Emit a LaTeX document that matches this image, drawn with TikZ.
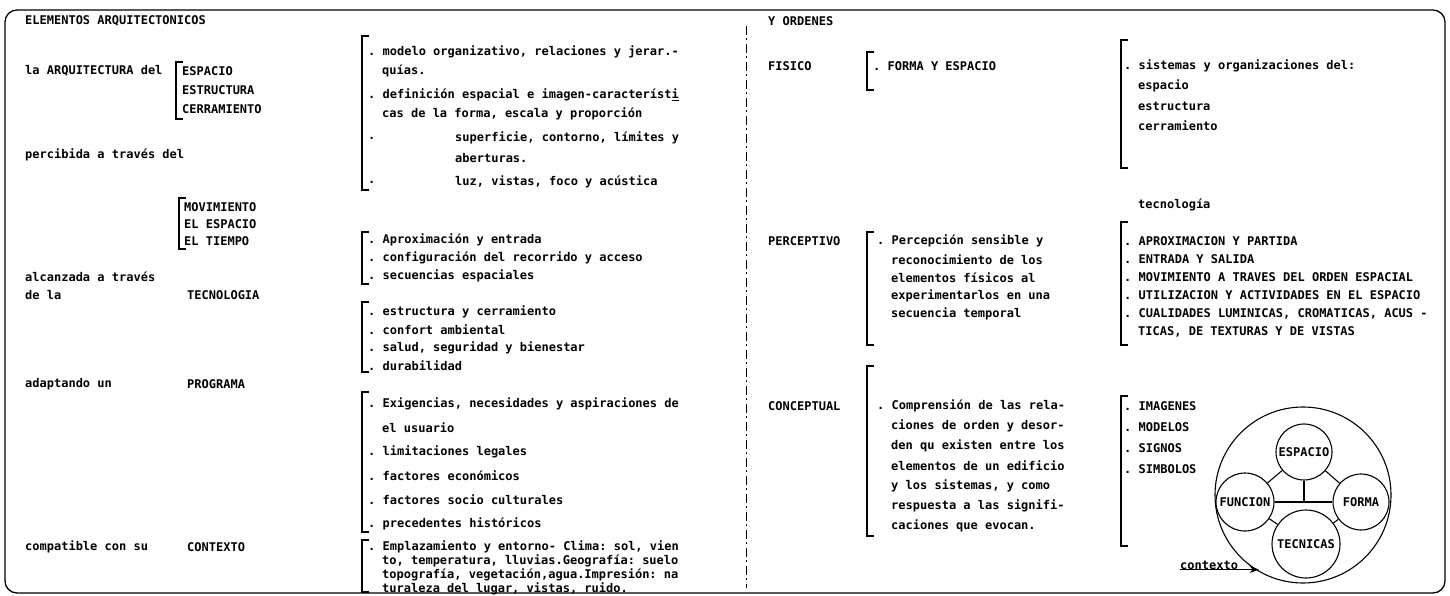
\documentclass[tikz,border=0pt]{standalone}
\usepackage{fontspec}
\setmainfont{DejaVu Sans Mono}
\usetikzlibrary{arrows.meta,positioning}
\newcommand{\brkt}[3]{\draw[brk] (#1+7,#2) -- (#1,#2) -- (#1,#3) -- (#1+7,#3);}

\begin{document}
\begin{tikzpicture}[x=1pt,y=-1pt,
  txt/.style={anchor=west,inner sep=0pt,font=\bfseries\fontsize{12}{14}\selectfont\frenchspacing},
  brk/.style={line width=1.5pt},
  frame/.style={line width=1.3pt,rounded corners=12pt},
  divl/.style={line width=0.9pt,dash pattern=on 9pt off 3pt on 2pt off 4pt},
  circ/.style={circle,draw,line width=1.1pt,inner sep=0pt,font=\bfseries\fontsize{12}{14}\selectfont},
  link/.style={line width=1.1pt},
  arr/.style={-{Stealth[length=9pt,width=7pt]},line width=1.2pt}]
  \useasboundingbox (0,0) rectangle (1450,596);
  \draw[frame] (5,10) rectangle (1445,593);
  \draw[divl] (746,26) -- (746,588);
  % left column
  \node[txt] (hdrL) at (25,21) {ELEMENTOS ARQUITECTONICOS};
  \node[txt] (arq) at (25,71) {la ARQUITECTURA del};
  \node[txt] (espL) at (182,71) {ESPACIO};
  \node[txt] (estL) at (182,90) {ESTRUCTURA};
  \node[txt] (cerL) at (182,109) {CERRAMIENTO};
  \brkt{176}{62}{119}
  \node[txt] (perc) at (25,155) {percibida a través del};
  \node[txt] (mov) at (184,207) {MOVIMIENTO};
  \node[txt] (elesp) at (184,224) {EL ESPACIO};
  \node[txt] (eltie) at (184,241) {EL TIEMPO};
  \brkt{179}{198}{249}
  \node[txt] (alc) at (25,277) {alcanzada a través};
  \node[txt] (dela) at (25,295) {de la};
  \node[txt] (tecL) at (187,295) {TECNOLOGIA};
  \node[txt] (adap) at (25,384) {adaptando un};
  \node[txt] (prog) at (187,384) {PROGRAMA};
  \node[txt] (comp) at (25,547) {compatible con su};
  \node[txt] (cont) at (187,547) {CONTEXTO};
  % middle column
  \brkt{362}{36}{190}
  \node[txt] (m1) at (368,52) {. modelo organizativo, relaciones y jerar.-};
  \node[txt] (m2) at (382,71) {quías.};
  \node[txt] (m3) at (368,95) {. definición espacial e imagen-característ\underline{i}};
  \node[txt] (m4) at (382,114) {cas de la forma, escala y proporción};
  \node[txt] (m5) at (368,138) {.}; \node[txt] (m5b) at (455,138) {superficie, contorno, límites y};
  \node[txt] (m6) at (455,158) {aberturas.};
  \node[txt] (m7) at (368,182) {.}; \node[txt] (m7b) at (455,182) {luz, vistas, foco y acústica};
  \brkt{362}{232}{284}
  \node[txt] (a1) at (368,240) {. Aproximación y entrada};
  \node[txt] (a2) at (368,258) {. configuración del recorrido y acceso};
  \node[txt] (a3) at (368,276) {. secuencias espaciales};
  \brkt{362}{302}{372}
  \node[txt] (t1) at (368,312) {. estructura y cerramiento};
  \node[txt] (t2) at (368,330) {. confort ambiental};
  \node[txt] (t3) at (368,348) {. salud, seguridad y bienestar};
  \node[txt] (t4) at (368,366) {. durabilidad};
  \brkt{362}{392}{532}
  \node[txt] (p1) at (368,404) {. Exigencias, necesidades y aspiraciones de};
  \node[txt] (p2) at (382,428) {el usuario};
  \node[txt] (p3) at (368,452) {. limitaciones legales};
  \node[txt] (p4) at (368,476) {. factores económicos};
  \node[txt] (p5) at (368,500) {. factores socio culturales};
  \node[txt] (p6) at (368,524) {. precedentes históricos};
  \brkt{362}{540}{592}
  \node[txt] (e1) at (368,547) {. Emplazamiento y entorno- Clima: sol, vien};
  \node[txt] (e2) at (382,561) {to, temperatura, lluvias.Geografía: suelo};
  \node[txt] (e3) at (382,575) {topografía, vegetación,agua.Impresión: na};
  \node[txt] (e4) at (382,589) {turaleza del lugar, vistas, ruido.};
  % right column
  \node[txt] (hdrR) at (768,21) {Y ORDENES};
  \node[txt] (fis) at (768,66) {FISICO};
  \brkt{867}{52}{90}
  \node[txt] (forma) at (873,66) {. FORMA Y ESPACIO};
  \brkt{1121}{40}{168}
  \node[txt] (s0) at (1124,66) {. sistemas y organizaciones del:};
  \node[txt] (s1) at (1138,86) {espacio};
  \node[txt] (s2) at (1138,106) {estructura};
  \node[txt] (s3) at (1138,126) {cerramiento};
  \node[txt] (tecR) at (1138,205) {tecnología};
  \brkt{1121}{222}{345}
  \node[txt] (r1) at (1124,241) {. APROXIMACION Y PARTIDA};
  \node[txt] (r2) at (1124,259) {. ENTRADA Y SALIDA};
  \node[txt] (r3) at (1124,277) {. MOVIMIENTO A TRAVES DEL ORDEN ESPACIAL};
  \node[txt] (r4) at (1124,295) {. UTILIZACION Y ACTIVIDADES EN EL ESPACIO};
  \node[txt] (r5) at (1124,314) {. CUALIDADES LUMINICAS, CROMATICAS, ACUS -};
  \node[txt] (r6) at (1138,332) {TICAS, DE TEXTURAS Y DE VISTAS};
  \node[txt] (perR) at (768,241) {PERCEPTIVO};
  \brkt{867}{232}{345}
  \node[txt] (pc1) at (877,241) {. Percepción sensible y};
  \node[txt] (pc2) at (891,260) {reconocimiento de los};
  \node[txt] (pc3) at (891,278) {elementos físicos al};
  \node[txt] (pc4) at (891,296) {experimentarlos en una};
  \node[txt] (pc5) at (891,314) {secuencia temporal};
  \node[txt] (conc) at (768,406) {CONCEPTUAL};
  \brkt{867}{366}{536}
  \node[txt] (cc1) at (877,406) {. Comprensión de las rela-};
  \node[txt] (cc2) at (891,426) {ciones de orden y desor-};
  \node[txt] (cc3) at (891,446) {den qu existen entre los};
  \node[txt] (cc4) at (891,466) {elementos de un edificio};
  \node[txt] (cc5) at (891,486) {y los sistemas, y como};
  \node[txt] (cc6) at (891,506) {respuesta a las signifi-};
  \node[txt] (cc7) at (891,526) {caciones que evocan.};
  \brkt{1121}{396}{546}
  \node[txt] (im1) at (1124,406) {. IMAGENES};
  \node[txt] (im2) at (1124,427) {. MODELOS};
  \node[txt] (im3) at (1124,448) {. SIGNOS};
  \node[txt] (im4) at (1124,469) {. SIMBOLOS};
  % circles
  \node[circ,minimum size=176pt] (big) at (1303,495) {};
  \node[circ,minimum size=56pt] (espc) at (1304,452) {ESPACIO};
  \node[circ,minimum size=58pt] (func) at (1245,502) {FUNCION};
  \node[circ,minimum size=56pt] (form) at (1361,502) {FORMA};
  \node[circ,minimum size=68pt] (tecn) at (1306,544) {TECNICAS};
  \coordinate (hub) at (espc.south |- func.center);
  \draw[link] (func) -- (form); \draw[link] (espc.south) -- (hub);
  \draw[link] (espc) -- (func); \draw[link] (espc) -- (form);
  \draw[link] (tecn) -- (func); \draw[link] (tecn) -- (form);
  \node[txt] (ctx) at (1180,565) {contexto};
  \draw[arr] (ctx.south west) -- (ctx.south west -| big.240);
\end{tikzpicture}
\end{document}
